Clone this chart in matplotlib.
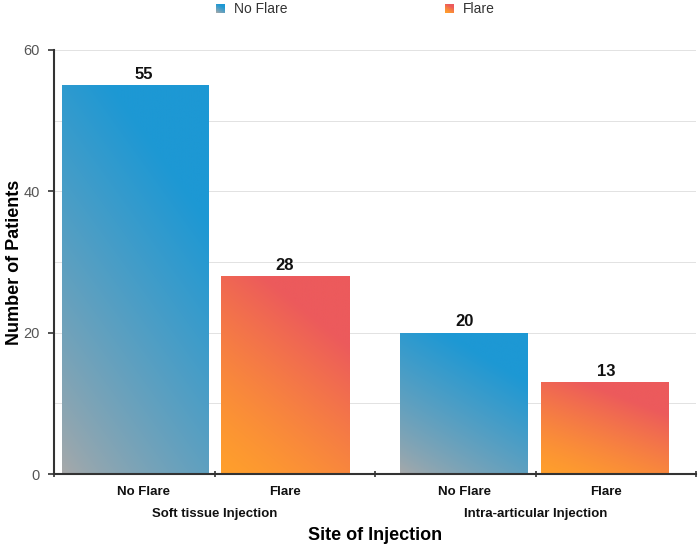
import numpy as np
import matplotlib
matplotlib.use("Agg")
import matplotlib.pyplot as plt
from matplotlib.patches import Rectangle
from matplotlib.colors import to_rgb

plt.rcParams["font.family"] = ["Liberation Sans", "DejaVu Sans"]

# data
categories = ["No Flare", "Flare", "No Flare", "Flare"]
groups = ["Soft tissue Injection", "Intra-articular Injection"]
patients = [55, 28, 20, 13]
legend_labels = ["No Flare", "Flare"]

# layout / style
bar_left = [0.05, 1.04, 2.156, 3.034]
bar_width = [0.91, 0.80, 0.797, 0.796]
label_pos = [0.56, 1.44, 2.56, 3.44]
grad = {
    "No Flare": ("#a9a9a9", "#1d98d4", 0.8),
    "Flare": ("#ff9f2c", "#ec5a5c", 1.3),
}


def gradient_img(c0, c1, gamma, n=200):
    u = np.linspace(0, 1, n)
    xx, yy = np.meshgrid(u, u)
    t = np.clip(0.45 * xx + 0.85 * yy, 0, 1) ** gamma
    t = t[::-1]
    a = np.array(to_rgb(c0))
    b = np.array(to_rgb(c1))
    return a[None, None, :] * (1 - t[..., None]) + b[None, None, :] * t[..., None]


fig = plt.figure(figsize=(7, 5.48), dpi=100)
ax = fig.add_axes([54 / 700, 74 / 548, 642 / 700, 424 / 548])

ax.set_xlim(0, 4)
ax.set_ylim(0, 60)

# grid
for y in range(10, 61, 10):
    ax.axhline(y, color="#e2e2e2", lw=0.7, zorder=0)

for i, (cat, val) in enumerate(zip(categories, patients)):
    x0, w = bar_left[i], bar_width[i]
    rect = Rectangle((x0, 0), w, val, facecolor="none", edgecolor="none")
    ax.add_patch(rect)
    im = ax.imshow(gradient_img(*grad[cat]), extent=(x0, x0 + w, 0, val),
                   aspect="auto", zorder=2, interpolation="bilinear")
    im.set_clip_path(rect)
    ax.text(label_pos[i], val + 0.5, str(val), ha="center", va="bottom",
            fontsize=12, fontweight="bold", color="#111111")

ax.set_xlim(0, 4)
ax.set_ylim(0, 60)

# spines
for s in ["top", "right"]:
    ax.spines[s].set_visible(False)
ax.spines["left"].set_color("#333333")
ax.spines["left"].set_linewidth(1.5)
ax.spines["bottom"].set_color("#333333")
ax.spines["bottom"].set_linewidth(1.5)

ax.set_yticks([0, 20, 40, 60])
ax.tick_params(axis="y", labelsize=10.5, labelcolor="#555555", length=4,
               width=1.2, color="#333333", pad=6)
ax.set_xticks([0, 1, 2, 3, 4])
ax.set_xticklabels([])
ax.tick_params(axis="x", length=4, width=1.2, color="#333333", direction="inout")

for i, cat in enumerate(categories):
    ax.text(label_pos[i], -1.7, cat, ha="center", va="top", fontsize=9.5,
            fontweight="bold", color="#111111")
for j, g in enumerate(groups):
    ax.text(2 * j + 1, -4.8, g, ha="center", va="top", fontsize=9.5,
            fontweight="bold", color="#111111")

fig.text(15 / 700, 1 - 262 / 548, "Number of Patients", rotation=90,
         ha="center", va="center", fontsize=13, fontweight="bold")
fig.text(375 / 700, 1 - 535 / 548, "Site of Injection", ha="center",
         va="center", fontsize=13, fontweight="bold")

# legend at top
for lab, xs in zip(legend_labels, [216, 445]):
    c0, c1, gm = grad[lab]
    fig.figimage(gradient_img(c0, c1, gm, 9), xo=xs, yo=548 - 13, zorder=3)
    fig.text((xs + 18) / 700, 1 - 9 / 548, lab, ha="left", va="center",
             fontsize=10, color="#333333")

fig.savefig("out.png", dpi=100)
